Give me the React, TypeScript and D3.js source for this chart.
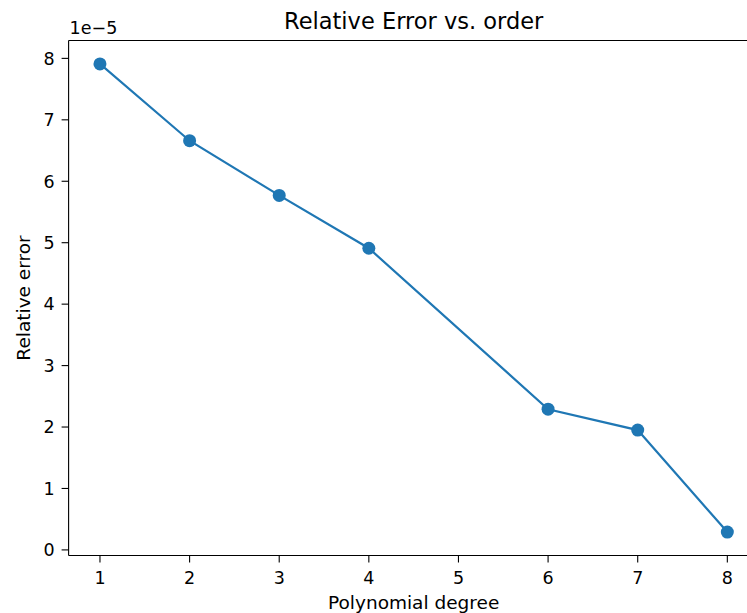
import React from "react";
import * as d3 from "d3";

const degrees = [1, 2, 3, 4, 6, 7, 8];
const relErrors = [7.91, 6.66, 5.77, 4.91, 2.29, 1.95, 0.29]; // ×1e-5
const xTicks = [1, 2, 3, 4, 5, 6, 7, 8];
const yTicks = [0, 1, 2, 3, 4, 5, 6, 7, 8];
const title = "Relative Error vs. order";
const xLabel = "Polynomial degree";
const yLabel = "Relative error";
const offsetLabel = "1e\u22125";

const W = 747;
const H = 613;
const left = 68.6;
const right = 758.7;
const top = 40.5;
const bottom = 555.5;
const color = "#1f77b4";
const font = "'DejaVu Sans', sans-serif";

export default function App() {
  const xMin = d3.min(degrees)!, xMax = d3.max(degrees)!;
  const yMin = d3.min(relErrors)!, yMax = d3.max(relErrors)!;
  const xm = (xMax - xMin) * 0.05, ym = (yMax - yMin) * 0.05;
  const x = d3.scaleLinear().domain([xMin - xm, xMax + xm]).range([left, right]);
  const y = d3.scaleLinear().domain([yMin - ym, yMax + ym]).range([bottom, top]);
  const line = d3.line<number>().x((_, i) => x(degrees[i])).y((d) => y(d));
  const midX = (left + right) / 2;
  return (
    <div style={{ position: "fixed", left: 0, top: 0, width: W, height: H, background: "#fff" }}>
      <svg width={W} height={H} style={{ display: "block", fontFamily: font }}>
        <rect width={W} height={H} fill="#fff" />
        <text x={midX} y={29} textAnchor="middle" fontSize={22.5} fill="#000">{title}</text>
        <text x={left + 1} y={34} fontSize={17.5} fill="#000">{offsetLabel}</text>
        <g stroke="#000" strokeWidth={1.1} fill="none">
          <line x1={left} x2={right} y1={top} y2={top} />
          <line x1={left} x2={right} y1={bottom} y2={bottom} />
          <line x1={left} x2={left} y1={top} y2={bottom} />
          <line x1={right} x2={right} y1={top} y2={bottom} />
        </g>
        {yTicks.map((t) => (
          <g key={"y" + t}>
            <line x1={left - 7} x2={left} y1={y(t)} y2={y(t)} stroke="#000" strokeWidth={1.1} />
            <text x={left - 14} y={y(t)} dy="0.36em" textAnchor="end" fontSize={17.5} fill="#000">{t}</text>
          </g>
        ))}
        {xTicks.map((t) => (
          <g key={"x" + t}>
            <line x1={x(t)} x2={x(t)} y1={bottom} y2={bottom + 7} stroke="#000" strokeWidth={1.1} />
            <text x={x(t)} y={584} textAnchor="middle" fontSize={17.5} fill="#000">{t}</text>
          </g>
        ))}
        <text x={midX} y={609} textAnchor="middle" fontSize={18.5} fill="#000">{xLabel}</text>
        <text transform={`translate(29.5, ${(top + bottom) / 2}) rotate(-90)`} textAnchor="middle" fontSize={18.5} fill="#000">{yLabel}</text>
        <path d={line(relErrors) ?? ""} fill="none" stroke={color} strokeWidth={2.2} />
        {relErrors.map((v, i) => (
          <circle key={i} cx={x(degrees[i])} cy={y(v)} r={6.5} fill={color} />
        ))}
      </svg>
    </div>
  );
}
